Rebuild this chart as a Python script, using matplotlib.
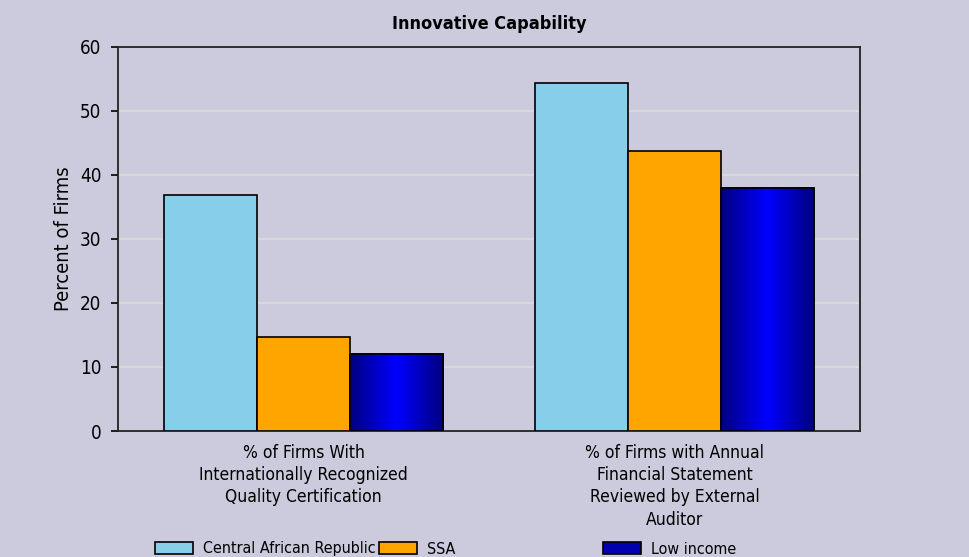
import numpy as np
import matplotlib
matplotlib.use("Agg")
import matplotlib.pyplot as plt
from matplotlib.patches import Patch

categories = ["% of Firms With\nInternationally Recognized\nQuality Certification",
              "% of Firms with Annual\nFinancial Statement\nReviewed by External\nAuditor"]
series_names = ["Central African Republic", "SSA", "Low income"]
car_values = [36.9, 54.4]
ssa_values = [14.6, 43.7]
low_values = [12.1, 37.9]

colors = ["#87CEEB", "#FFA500", "#0000C8"]
bg = "#CBCBDD"

plt.rcParams['font.family'] = ['DejaVu Sans']
plt.rcParams['font.stretch'] = 'condensed'

fig = plt.figure(figsize=(9.7, 5.57), dpi=100, facecolor=bg)
ax = fig.add_axes([0.1216, 0.2262, 0.7650, 0.6900], facecolor=bg)

x = np.arange(len(categories))
w = 0.25
all_vals = [car_values, ssa_values, low_values]
bars = []
for i, vals in enumerate(all_vals):
    b = ax.bar(x + (i - 1) * w, vals, w, color=colors[i], edgecolor="black",
               linewidth=1.2, zorder=3, label=series_names[i])
    bars.append(b)

# gradient fill for the low income bars
grad = np.abs(np.linspace(-1, 1, 256))
grad = grad.reshape(1, -1)
cmap = matplotlib.colors.LinearSegmentedColormap.from_list("blu", ["#0000FF", "#000080"])
for rect in bars[2]:
    x0, y0 = rect.get_x(), rect.get_y()
    im = ax.imshow(grad, cmap=cmap, aspect="auto", zorder=3.5,
                   extent=[x0, x0 + rect.get_width(), y0, y0 + rect.get_height()])
    im.set_clip_path(rect)
    ax.add_patch(plt.Rectangle((x0, y0), rect.get_width(), rect.get_height(),
                               fill=False, edgecolor="black", linewidth=1.2, zorder=4))

ax.set_xlim(-0.5, 1.5)
ax.set_ylim(0, 60)
ax.set_yticks(range(0, 61, 10))
ax.yaxis.grid(True, color="#DCDCDC", linewidth=1.2, zorder=0)
ax.set_xticks(x)
ax.set_xticklabels(categories, fontsize=12.5, linespacing=1.32)
ax.tick_params(axis="x", length=0, pad=9)
ax.tick_params(axis="y", length=5, width=1.2, labelsize=13.5, direction="out", pad=7)
for s in ax.spines.values():
    s.set_linewidth(1.3)
    s.set_color("#222222")

ax.set_ylabel("Percent of Firms", fontsize=14.5, labelpad=5)
ax.set_title("Innovative Capability", fontsize=13, fontweight="bold", pad=13)

# legend entries placed in equal-width slots like the original
legend_x = [155, 379, 603]
legend_colors = ["#87CEEB", "#FFA500", "#0000B0"]
for lx, name, c in zip(legend_x, series_names, legend_colors):
    h = Patch(facecolor=c, edgecolor="black", linewidth=1.2)
    fig.legend(handles=[h], labels=[name], loc="center left",
               bbox_to_anchor=(lx / 970, 1 - 549 / 557), frameon=False,
               fontsize=11.5, handlelength=2.4, handleheight=0.7,
               handletextpad=0.6, borderpad=0, borderaxespad=0)

fig.savefig("out.png", dpi=100, facecolor=bg)
